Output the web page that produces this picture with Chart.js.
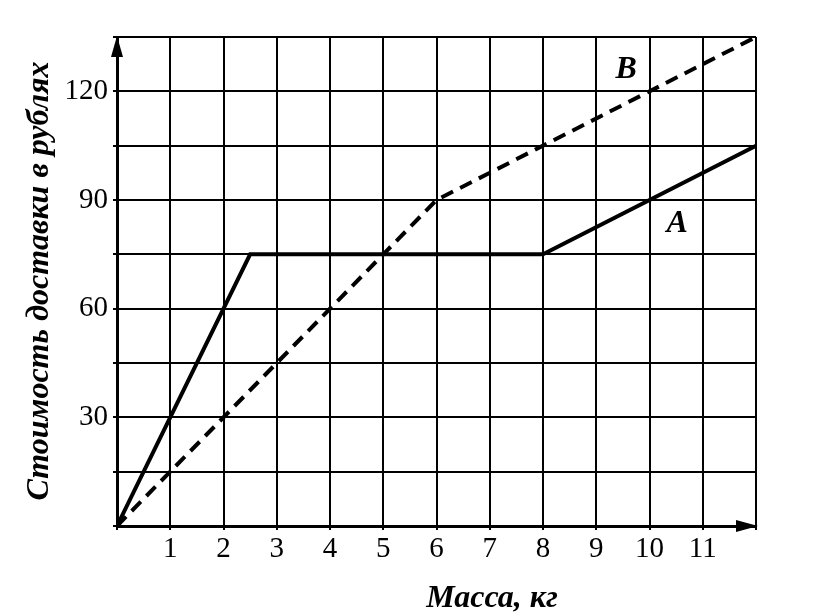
<!DOCTYPE html>
<html>
<head>
<meta charset="utf-8">
<script src="https://cdn.jsdelivr.net/npm/chart.js@4.4.1/dist/chart.umd.min.js"></script>
<style>
  html, body { margin: 0; padding: 0; background: #fff; }
  #wrap { width: 814px; height: 616px; position: relative; }
</style>
</head>
<body>
<div id="wrap"><canvas id="chart"></canvas></div>
<script>
// Тариф A (сплошная линия)
const massA = [0, 2.5, 8, 12];
const costA = [0, 75, 75, 105];
// Тариф B (пунктир)
const massB = [0, 6, 12];
const costB = [0, 90, 135];

const xTickLabels = [1, 2, 3, 4, 5, 6, 7, 8, 9, 10, 11];
const yTickLabels = [30, 60, 90, 120];

const xTitle = 'Масса, кг';
const yTitle = 'Стоимость доставки в рублях';

const serif = '"Liberation Serif", "DejaVu Serif", serif';

const toPoints = (xs, ys) => xs.map((x, i) => ({ x: x, y: ys[i] }));

// подписи A, B, стрелки осей и заголовки
const decorPlugin = {
    id: 'decor',
    afterDraw(chart) {
        const ctx = chart.ctx;
        const xs = chart.scales.x;
        const ys = chart.scales.y;
        const area = chart.chartArea;
        ctx.save();
        ctx.fillStyle = '#000';

        // стрелка оси Y
        const x0 = xs.getPixelForValue(0);
        ctx.beginPath();
        ctx.moveTo(x0, area.top - 1);
        ctx.lineTo(x0 - 6, area.top + 20);
        ctx.lineTo(x0 + 6, area.top + 20);
        ctx.closePath();
        ctx.fill();

        // стрелка оси X
        const y0 = ys.getPixelForValue(0);
        ctx.beginPath();
        ctx.moveTo(area.right + 2, y0);
        ctx.lineTo(area.right - 20, y0 - 6);
        ctx.lineTo(area.right - 20, y0 + 6);
        ctx.closePath();
        ctx.fill();

        // подписи графиков
        ctx.font = 'italic bold 32px ' + serif;
        ctx.textAlign = 'center';
        ctx.textBaseline = 'middle';
        ctx.fillText('A', xs.getPixelForValue(10.52), ys.getPixelForValue(83.5));
        ctx.fillText('B', xs.getPixelForValue(9.56), ys.getPixelForValue(126));

        // заголовки осей
        ctx.font = 'italic bold 32px ' + serif;
        ctx.fillText(xTitle, 492, 599);
        ctx.translate(40, 281);
        ctx.rotate(-Math.PI / 2);
        ctx.fillText(yTitle, 0, 0);
        ctx.restore();
    }
};

new Chart(document.getElementById('chart'), {
    type: 'scatter',
    data: {
        datasets: [
            {
                label: 'A',
                data: toPoints(massA, costA),
                showLine: true,
                borderColor: '#000',
                borderWidth: 4,
                pointRadius: 0,
                tension: 0
            },
            {
                label: 'B',
                data: toPoints(massB, costB),
                showLine: true,
                borderColor: '#000',
                borderWidth: 4,
                borderDash: [13, 8],
                pointRadius: 0,
                tension: 0
            }
        ]
    },
    options: {
        responsive: true,
        maintainAspectRatio: false,
        animation: false,
        layout: { padding: { top: 37, right: 58, left: 0, bottom: 0 } },
        plugins: {
            legend: { display: false },
            tooltip: { enabled: false }
        },
        scales: {
            x: {
                type: 'linear',
                min: 0,
                max: 12,
                afterFit(scale) { scale.height = 90; },
                grid: { color: '#000', lineWidth: 2, tickLength: 4, tickColor: '#000' },
                border: { display: true, color: '#000', width: 3 },
                ticks: {
                    stepSize: 1,
                    color: '#000',
                    padding: 2,
                    maxRotation: 0,
                    font: { family: serif, size: 29 },
                    callback: v => xTickLabels.includes(v) ? String(v) : ''
                }
            },
            y: {
                type: 'linear',
                min: 0,
                max: 135,
                afterFit(scale) { scale.width = 117; },
                grid: { color: '#000', lineWidth: 2, tickLength: 4, tickColor: '#000' },
                border: { display: true, color: '#000', width: 3 },
                ticks: {
                    stepSize: 15,
                    color: '#000',
                    padding: 5,
                    font: { family: serif, size: 29 },
                    callback: v => yTickLabels.includes(v) ? String(v) : ''
                }
            }
        }
    },
    plugins: [decorPlugin]
});
</script>
</body>
</html>
